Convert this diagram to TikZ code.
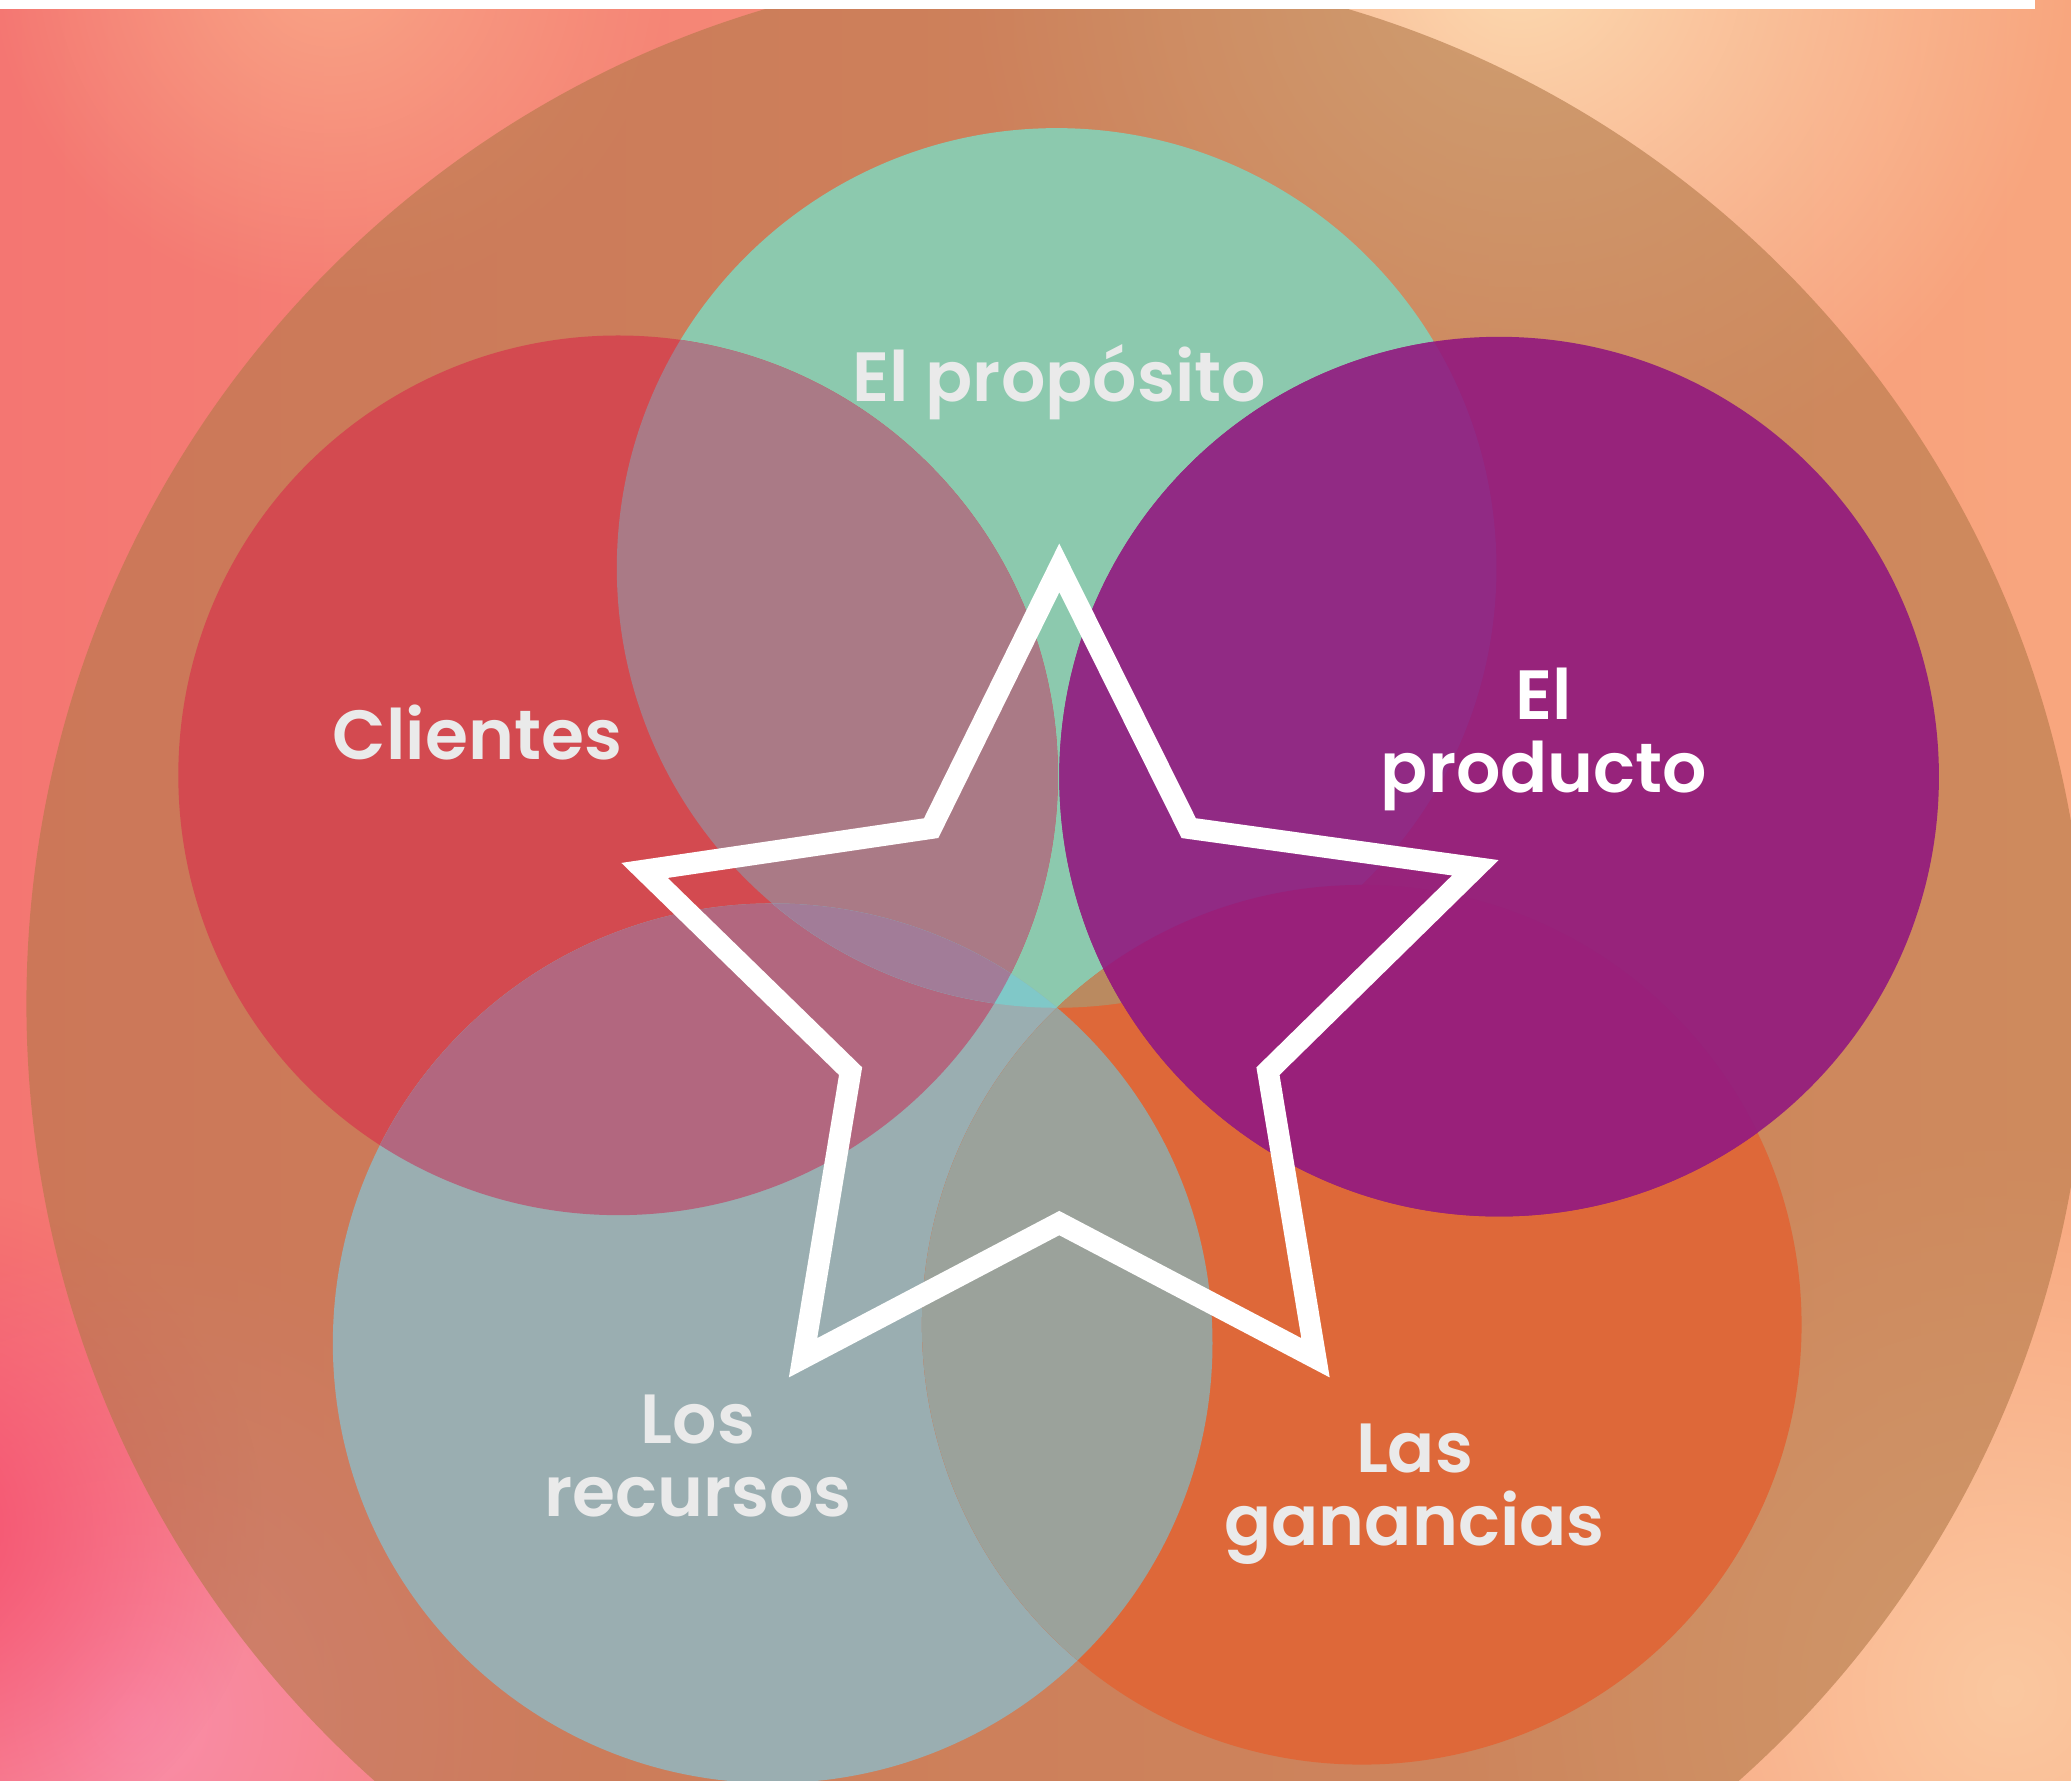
\documentclass[tikz,border=0pt]{standalone}
\usepackage{fontspec}
\setmainfont{Poppins}
\IfFontExistsTF{Poppins SemiBold}{\newfontfamily\labelfont{Poppins SemiBold}}{\newfontfamily\labelfont{Poppins}[UprightFont=*-Bold]}
\usetikzlibrary{fadings}
\definecolor{bgleft}{HTML}{F47672}
\definecolor{bgmid}{HTML}{F88C6A}
\definecolor{bgright}{HTML}{F8A67E}
\definecolor{glowpeach}{HTML}{FCDAB0}
\definecolor{glowpeachb}{HTML}{FBC8A0}
\definecolor{glowpink}{HTML}{FA8EAA}
\definecolor{glowhot}{HTML}{F5506E}
\definecolor{glowsalmon}{HTML}{F9A586}
\definecolor{ringbrown}{HTML}{B27848}
\definecolor{cgreen}{HTML}{8CC9AE}
\definecolor{cred}{HTML}{D34A50}
\definecolor{cblue}{HTML}{9AAEB1}
\definecolor{corange}{HTML}{DE6839}
\definecolor{cpurple}{HTML}{97237B}
\definecolor{xrg}{HTML}{AA7A86}
\definecolor{xbr}{HTML}{B2677F}
\definecolor{xbg}{HTML}{80C8C8}
\definecolor{xbrg}{HTML}{A27C98}
\definecolor{xog}{HTML}{BA8A60}
\definecolor{xob}{HTML}{9BA29B}
\definecolor{xpg}{HTML}{912A84}
\definecolor{xpo}{HTML}{99207A}
\definecolor{labelgray}{HTML}{EAEAEA}
\tikzfading[name=glowfade, inner color=transparent!0, outer color=transparent!100]
\tikzset{
  lbl/.style={anchor=base, text=labelgray, align=center, inner sep=0pt,
    font=\labelfont\fontsize{15.0}{15.65}\selectfont},
  starline/.style={draw=white, line width=4.65pt, line join=miter},
  glow/.style={path fading=glowfade}
}
\begin{document}
\begin{tikzpicture}
\useasboundingbox (0,0) rectangle (15.68,-13.48);
\clip (0,0) rectangle (15.68,-13.48);
% background
\shade[left color=bgleft, middle color=bgmid, right color=bgright] (0,0) rectangle (15.68,-13.48);
\fill[glowsalmon, glow] (2.5,0.3) circle (2.6);
\fill[glowpeach, glow] (11.5,0.3) circle (4.2);
\fill[glowpeachb, glow] (15.2,-12.8) circle (4.2);
\fill[glowpink, glow] (1.0,-13.0) circle (3.6);
\fill[glowhot, glow] (-0.6,-11.6) circle (2.6);
% outer ellipse
\coordinate (E) at (8.00,-7.60);
\fill[ringbrown, fill opacity=0.6] (E) ellipse [x radius=7.80cm, y radius=7.85cm];
% circle centres
\coordinate (G) at (8.00,-4.30);
\coordinate (R) at (4.68,-5.87);
\coordinate (P) at (11.35,-5.88);
\coordinate (B) at (5.85,-10.17);
\coordinate (O) at (10.31,-10.03);
\def\rr{3.33cm}
% base fills
\fill[cgreen] (G) circle (\rr);
\fill[cred] (R) circle (\rr);
\fill[cblue] (B) circle (\rr);
\fill[corange] (O) circle (\rr);
% overlaps
\begin{scope}\clip (R) circle (\rr); \fill[xrg] (G) circle (\rr);\end{scope}
\begin{scope}\clip (B) circle (\rr); \fill[xbr] (R) circle (\rr);\end{scope}
\begin{scope}\clip (B) circle (\rr); \fill[xbg] (G) circle (\rr);\end{scope}
\begin{scope}\clip (B) circle (\rr); \clip (R) circle (\rr); \fill[xbrg] (G) circle (\rr);\end{scope}
\begin{scope}\clip (O) circle (\rr); \fill[xog] (G) circle (\rr);\end{scope}
\begin{scope}\clip (O) circle (\rr); \fill[xob] (B) circle (\rr);\end{scope}
\fill[cpurple] (P) circle (\rr);
\begin{scope}\clip (P) circle (\rr); \fill[xpg] (G) circle (\rr);\end{scope}
\begin{scope}\clip (P) circle (\rr); \fill[xpo] (O) circle (\rr);\end{scope}
% top strip
\fill[white] (0,0) rectangle (15.41,-0.07);
% star
\coordinate (T1) at (8.02,-4.30);
\coordinate (I1) at (9.00,-6.27);
\coordinate (T2) at (11.17,-6.57);
\coordinate (I2) at (9.60,-8.11);
\coordinate (T3) at (9.96,-10.28);
\coordinate (I3) at (8.02,-9.26);
\coordinate (T4) at (6.08,-10.28);
\coordinate (I4) at (6.44,-8.11);
\coordinate (T5) at (4.88,-6.59);
\coordinate (I5) at (7.05,-6.27);
\draw[starline] (T1) -- (I1) -- (T2) -- (I2) -- (T3) -- (I3) -- (T4) -- (I4) -- (T5) -- (I5) -- cycle;
% labels (base anchor = baseline of the last line)
\node[lbl] (proposito) at (8.02,-3.04) {El propósito};
\node[lbl] (clientes) at (3.615,-5.75) {Clientes};
\node[lbl, text=white] (producto) at (11.69,-6.00) {El\\producto};
\node[lbl] (recursos) at (5.285,-11.48) {Los\\recursos};
\node[lbl] (ganancias) at (10.71,-11.70) {Las\\ganancias};
\end{tikzpicture}
\end{document}
